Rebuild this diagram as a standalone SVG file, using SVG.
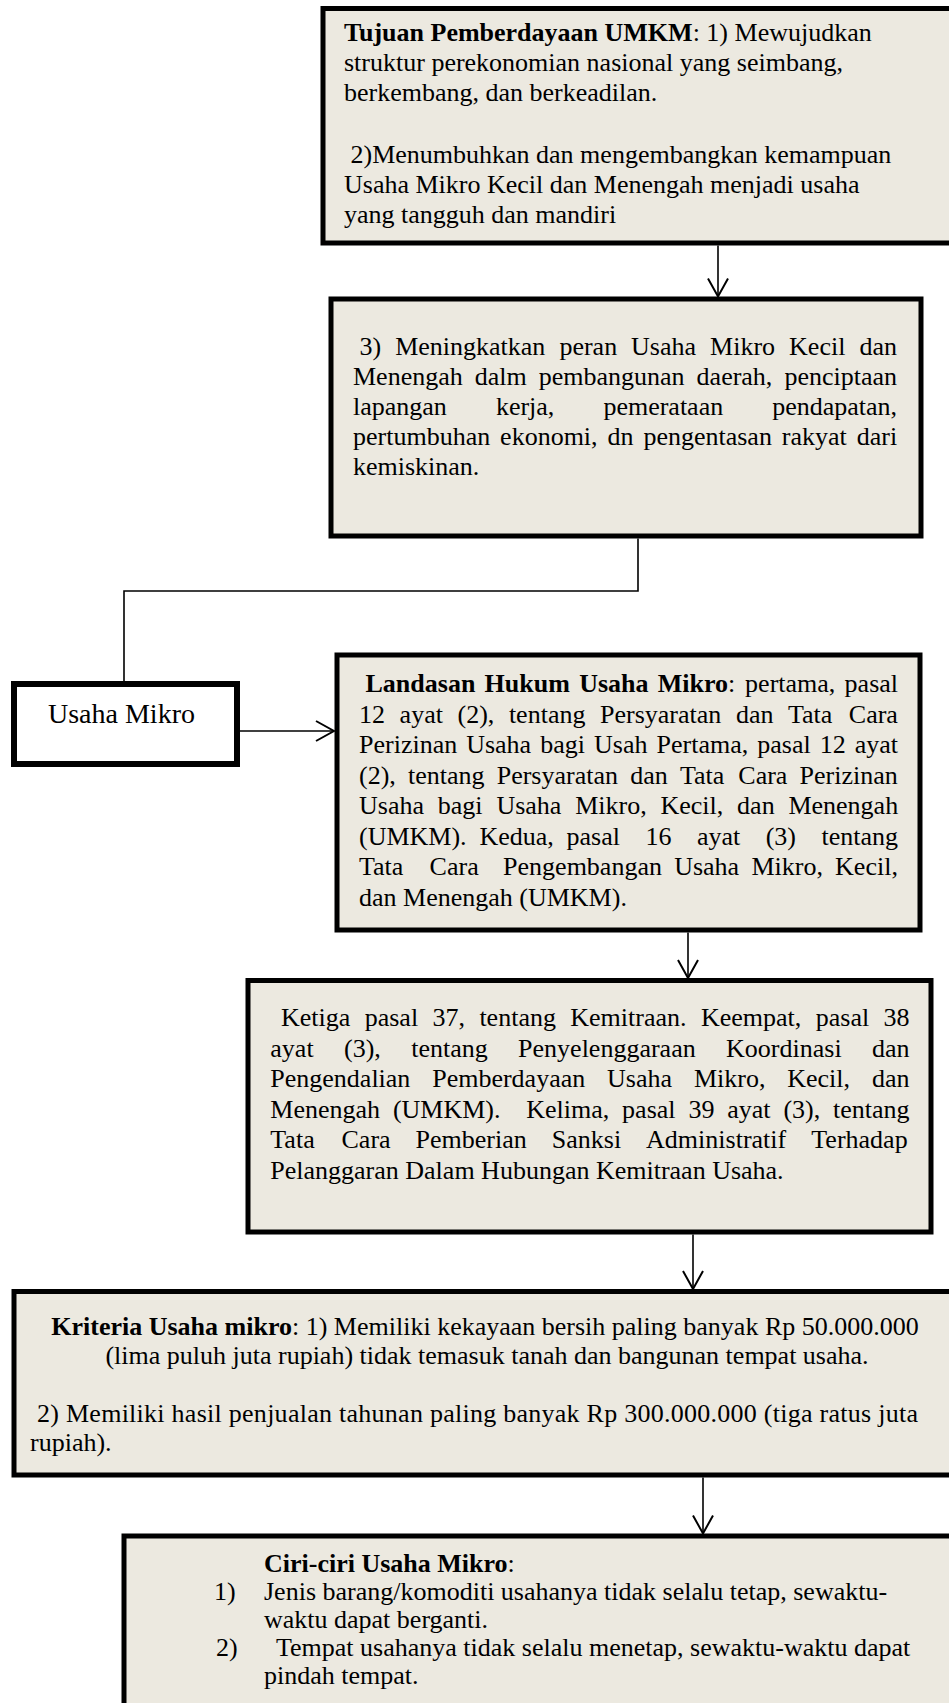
<svg xmlns="http://www.w3.org/2000/svg" width="949" height="1703" viewBox="0 0 949 1703">
<defs>
<style>
.box{fill:#ECE9E0;stroke:#000;stroke-width:5}
.wbox{fill:#FFFFFF;stroke:#000;stroke-width:6}
.t{font-family:"Liberation Serif","Times New Roman",serif;font-size:26px;fill:#000}
.b{font-weight:bold}
.c{fill:none;stroke:#000;stroke-width:1.6}
</style>
<marker id="arr" markerWidth="22" markerHeight="24" viewBox="0 0 22 24" refX="20" refY="12" orient="auto" markerUnits="userSpaceOnUse">
<path d="M2,2 L20,12 L2,22" fill="none" stroke="#000" stroke-width="2"/>
</marker>
</defs>
<rect width="949" height="1703" fill="#FFFFFF"/>

<g id="connectors">
<line class="c" x1="718" y1="245.5" x2="718" y2="296.5" marker-end="url(#arr)"/>
<polyline class="c" points="638,538.5 638,591 124,591 124,681"/>
<line class="c" x1="240" y1="731" x2="334" y2="731" marker-end="url(#arr)"/>
<line class="c" x1="688" y1="932.5" x2="688" y2="978" marker-end="url(#arr)"/>
<line class="c" x1="693" y1="1234.5" x2="693" y2="1289" marker-end="url(#arr)"/>
<line class="c" x1="703" y1="1477.5" x2="703" y2="1533.5" marker-end="url(#arr)"/>
</g>

<g id="tujuan">
<rect class="box" x="323" y="8.5" width="650" height="234.5"/>
<text class="t" x="344" y="41"><tspan class="b">Tujuan Pemberdayaan UMKM</tspan>: 1) Mewujudkan</text>
<text class="t" x="344" y="71">struktur perekonomian nasional yang seimbang,</text>
<text class="t" x="344" y="101">berkembang, dan berkeadilan.</text>
<text class="t" x="350.5" y="163">2)Menumbuhkan dan mengembangkan kemampuan</text>
<text class="t" x="344" y="193">Usaha Mikro Kecil dan Menengah menjadi usaha</text>
<text class="t" x="344" y="223">yang tangguh dan mandiri</text>
</g>

<g id="tujuan3">
<rect class="box" x="331" y="299" width="590" height="237"/>
<text class="t" y="355"><tspan x="359.5">3)</tspan><tspan x="395.2">Meningkatkan</tspan><tspan x="559.4">peran</tspan><tspan x="631.1">Usaha</tspan><tspan x="710.1">Mikro</tspan><tspan x="789.1">Kecil</tspan><tspan x="859.4">dan</tspan></text>
<text class="t" y="385"><tspan x="353">Menengah</tspan><tspan x="474.7">dalm</tspan><tspan x="538.7">pembangunan</tspan><tspan x="696.6">daerah,</tspan><tspan x="784.4">penciptaan</tspan></text>
<text class="t" y="415"><tspan x="353">lapangan</tspan><tspan x="495.9">kerja,</tspan><tspan x="603.4">pemerataan</tspan><tspan x="772.2">pendapatan,</tspan></text>
<text class="t" y="445"><tspan x="353">pertumbuhan</tspan><tspan x="500.1">ekonomi,</tspan><tspan x="607.5">dn</tspan><tspan x="643.4">pengentasan</tspan><tspan x="781.8">rakyat</tspan><tspan x="856.7">dari</tspan></text>
<text class="t" x="353" y="475">kemiskinan.</text>
</g>

<g id="usaha-mikro">
<rect class="wbox" x="14" y="684" width="223" height="80"/>
<text class="t" x="48" y="723" style="font-size:28px">Usaha Mikro</text>
</g>

<g id="landasan">
<rect class="box" x="337" y="655" width="583" height="275"/>
<text class="t" y="692"><tspan x="365.5" class="b">Landasan</tspan><tspan x="484.6" class="b">Hukum</tspan><tspan x="579.2" class="b">Usaha</tspan><tspan x="657.8" class="b">Mikro</tspan><tspan>:</tspan><tspan x="745.1">pertama,</tspan><tspan x="844.6">pasal</tspan></text>
<text class="t" y="722.5"><tspan x="359">12</tspan><tspan x="399.6">ayat</tspan><tspan x="457.5">(2),</tspan><tspan x="508.9">tentang</tspan><tspan x="600">Persyaratan</tspan><tspan x="735.9">dan</tspan><tspan x="788">Tata</tspan><tspan x="848.8">Cara</tspan></text>
<text class="t" y="753"><tspan x="359">Perizinan</tspan><tspan x="466.2">Usaha</tspan><tspan x="540.3">bagi</tspan><tspan x="594.1">Usah</tspan><tspan x="656.5">Pertama,</tspan><tspan x="757.3">pasal</tspan><tspan x="819.7">12</tspan><tspan x="854.7">ayat</tspan></text>
<text class="t" y="783.5"><tspan x="359">(2),</tspan><tspan x="408">tentang</tspan><tspan x="496.7">Persyaratan</tspan><tspan x="630.2">dan</tspan><tspan x="679.9">Tata</tspan><tspan x="738.3">Cara</tspan><tspan x="799.6">Perizinan</tspan></text>
<text class="t" y="814"><tspan x="359">Usaha</tspan><tspan x="437.8">bagi</tspan><tspan x="496.4">Usaha</tspan><tspan x="575.2">Mikro,</tspan><tspan x="660.5">Kecil,</tspan><tspan x="737.1">dan</tspan><tspan x="788.4">Menengah</tspan></text>
<text class="t" y="844.5"><tspan x="359">(UMKM).</tspan><tspan x="479.4">Kedua,</tspan><tspan x="566.5">pasal</tspan><tspan x="645.4">16</tspan><tspan x="696.9">ayat</tspan><tspan x="765.7">(3)</tspan><tspan x="821.5">tentang</tspan></text>
<text class="t" y="875"><tspan x="359">Tata</tspan><tspan x="429.6">Cara</tspan><tspan x="503.1">Pengembangan</tspan><tspan x="674.2">Usaha</tspan><tspan x="751.4">Mikro,</tspan><tspan x="835.1">Kecil,</tspan></text>
<text class="t" x="359" y="905.5">dan Menengah (UMKM).</text>
</g>

<g id="ketiga">
<rect class="box" x="248" y="980.5" width="683" height="251.5"/>
<text class="t" y="1026"><tspan x="281">Ketiga</tspan><tspan x="364.7">pasal</tspan><tspan x="432.5">37,</tspan><tspan x="479.4">tentang</tspan><tspan x="570.3">Kemitraan.</tspan><tspan x="701">Keempat,</tspan><tspan x="815.8">pasal</tspan><tspan x="883.5">38</tspan></text>
<text class="t" y="1056.5"><tspan x="270.3">ayat</tspan><tspan x="344">(3),</tspan><tspan x="411.2">tentang</tspan><tspan x="518.1">Penyelenggaraan</tspan><tspan x="726.1">Koordinasi</tspan><tspan x="872">dan</tspan></text>
<text class="t" y="1087"><tspan x="270.3">Pengendalian</tspan><tspan x="432.2">Pemberdayaan</tspan><tspan x="607.1">Usaha</tspan><tspan x="693.9">Mikro,</tspan><tspan x="787.2">Kecil,</tspan><tspan x="872">dan</tspan></text>
<text class="t" y="1117.5"><tspan x="270.3">Menengah</tspan><tspan x="392.9">(UMKM).</tspan><tspan x="526.2">Kelima,</tspan><tspan x="622.1">pasal</tspan><tspan x="688.4">39</tspan><tspan x="727.2">ayat</tspan><tspan x="783.4">(3),</tspan><tspan x="833">tentang</tspan></text>
<text class="t" y="1148"><tspan x="270.3">Tata</tspan><tspan x="341.5">Cara</tspan><tspan x="415.6">Pemberian</tspan><tspan x="551.8">Sanksi</tspan><tspan x="646.1">Administratif</tspan><tspan x="811.3">Terhadap</tspan></text>
<text class="t" x="270.3" y="1178.5">Pelanggaran Dalam Hubungan Kemitraan Usaha.</text>
</g>

<g id="kriteria">
<rect class="box" x="14" y="1291.5" width="960" height="183.5"/>
<text class="t" x="485" y="1335" text-anchor="middle"><tspan class="b">Kriteria Usaha mikro</tspan>: 1) Memiliki kekayaan bersih paling banyak Rp 50.000.000</text>
<text class="t" x="487" y="1364" text-anchor="middle">(lima puluh juta rupiah) tidak temasuk tanah dan bangunan tempat usaha.</text>
<text class="t" x="37" y="1422" textLength="881" lengthAdjust="spacing">2) Memiliki hasil penjualan tahunan paling banyak Rp 300.000.000 (tiga ratus juta</text>
<text class="t" x="30" y="1451">rupiah).</text>
</g>

<g id="ciri">
<rect class="box" x="124" y="1536" width="850" height="200"/>
<text class="t" x="264" y="1572"><tspan class="b">Ciri-ciri Usaha Mikro</tspan>:</text>
<text class="t" x="214" y="1600">1)</text>
<text class="t" x="264" y="1600">Jenis barang/komoditi usahanya tidak selalu tetap, sewaktu-</text>
<text class="t" x="264" y="1628">waktu dapat berganti.</text>
<text class="t" x="216" y="1656">2)</text>
<text class="t" x="276" y="1656">Tempat usahanya tidak selalu menetap, sewaktu-waktu dapat</text>
<text class="t" x="264" y="1684">pindah tempat.</text>
</g>
</svg>
